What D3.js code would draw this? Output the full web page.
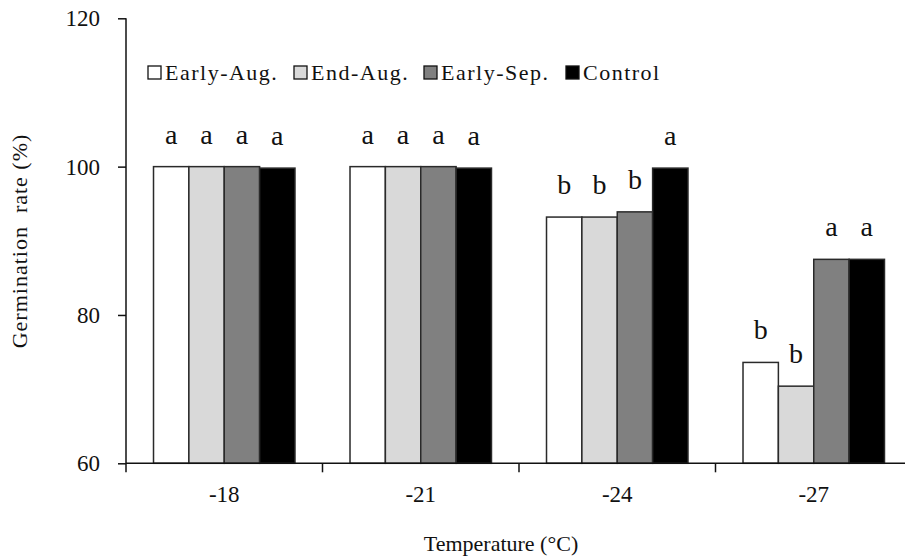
<!DOCTYPE html>
<html>
<head>
<meta charset="utf-8">
<script src="https://cdn.jsdelivr.net/npm/d3@7"></script>
<style>
  body { margin: 0; background: #fff; }
  text { font-family: 'Liberation Serif', 'Times New Roman', serif; fill: #111; }
</style>
</head>
<body>
<div id="chart"></div>
<script>
const temps = ['-18', '-21', '-24', '-27'];
const seriesNames = ['Early-Aug.', 'End-Aug.', 'Early-Sep.', 'Control'];
const earlyAug = [100, 100, 93.2, 73.6];
const endAug = [100, 100, 93.2, 70.4];
const earlySep = [100, 100, 93.9, 87.5];
const control = [99.8, 99.8, 99.8, 87.5];
const letters = [
  ['a', 'a', 'a', 'a'],
  ['a', 'a', 'a', 'a'],
  ['b', 'b', 'b', 'a'],
  ['b', 'b', 'a', 'a']
];
const yTicks = [60, 80, 100, 120];

const colors = ['#ffffff', '#d9d9d9', '#808080', '#000000'];
const seriesValues = [earlyAug, endAug, earlySep, control];

const width = 905;
const height = 560;
const margin = { left: 126, top: 18.3, bottom: 463.3 };

const svg = d3.select('#chart').append('svg')
  .attr('width', width)
  .attr('height', height);

// Scales
const x0 = d3.scaleBand().domain(temps).range([margin.left, 912]).paddingInner(0.28).paddingOuter(0.14);
const x1 = d3.scaleBand().domain(seriesNames).range([0, x0.bandwidth()]);
const y = d3.scaleLinear().domain([60, 120]).range([margin.bottom, margin.top]);

// Bars
const rows = [];
temps.forEach((t, i) => {
  seriesNames.forEach((s, j) => {
    rows.push({ temp: t, series: s, value: seriesValues[j][i], letter: letters[i][j], color: colors[j] });
  });
});

svg.append('g').selectAll('rect')
  .data(rows)
  .join('rect')
  .attr('x', d => x0(d.temp) + x1(d.series))
  .attr('y', d => y(d.value))
  .attr('width', x1.bandwidth())
  .attr('height', d => y(60) - y(d.value))
  .attr('fill', d => d.color)
  .attr('stroke', '#2a2a2a')
  .attr('stroke-width', 1.5);

// Significance letters
svg.append('g').selectAll('text')
  .data(rows)
  .join('text')
  .attr('x', d => x0(d.temp) + x1(d.series) + x1.bandwidth() / 2)
  .attr('y', d => y(d.value) - 23)
  .attr('text-anchor', 'middle')
  .style('font-size', '28px')
  .text(d => d.letter);

// Y axis
const yAxis = svg.append('g')
  .attr('transform', 'translate(' + margin.left + ',0)')
  .call(d3.axisLeft(y).tickValues(yTicks).tickSize(8).tickPadding(18));
yAxis.select('.domain').attr('d', 'M0,' + margin.top + 'V' + margin.bottom);
yAxis.selectAll('line, path').attr('stroke', '#111').attr('stroke-width', 1.5);
yAxis.selectAll('text').style('font-size', '23px').style('font-family', "'Liberation Serif', serif").attr('fill', '#111');

// X axis (labels centred in band, ticks at band boundaries)
const xAxis = svg.append('g')
  .attr('transform', 'translate(0,' + margin.bottom + ')')
  .call(d3.axisBottom(x0).tickSize(0).tickPadding(22));
xAxis.select('.domain').attr('d', 'M' + margin.left + ',0H' + width);
xAxis.selectAll('path').attr('stroke', '#111').attr('stroke-width', 1.5);
xAxis.selectAll('text').style('font-size', '23px').style('font-family', "'Liberation Serif', serif").attr('fill', '#111');

const half = x0.step() * x0.paddingInner() / 2;
svg.append('g').selectAll('line')
  .data(temps)
  .join('line')
  .attr('x1', d => x0(d) - half)
  .attr('x2', d => x0(d) - half)
  .attr('y1', margin.bottom)
  .attr('y2', margin.bottom + 9)
  .attr('stroke', '#111')
  .attr('stroke-width', 1.5);

// Axis titles
svg.append('text')
  .attr('x', 501)
  .attr('y', 551)
  .attr('text-anchor', 'middle')
  .style('font-size', '22px')
  .text('Temperature (°C)');

svg.append('text')
  .attr('transform', 'translate(27,241) rotate(-90)')
  .attr('text-anchor', 'middle')
  .style('font-size', '22px')
  .style('letter-spacing', '1px')
  .style('white-space', 'pre')
  .text('Germination  rate (%)');

// Legend
const legendX = [148, 294, 424, 566];
const legend = svg.append('g').selectAll('g')
  .data(seriesNames)
  .join('g')
  .attr('transform', (d, i) => 'translate(' + legendX[i] + ',66)');
legend.append('rect')
  .attr('width', 13)
  .attr('height', 13)
  .attr('fill', (d, i) => colors[i])
  .attr('stroke', '#111')
  .attr('stroke-width', 1.3);
legend.append('text')
  .attr('x', 17)
  .attr('y', 14)
  .style('font-size', '22px')
  .style('letter-spacing', '1.5px')
  .text(d => d);
</script>
</body>
</html>
